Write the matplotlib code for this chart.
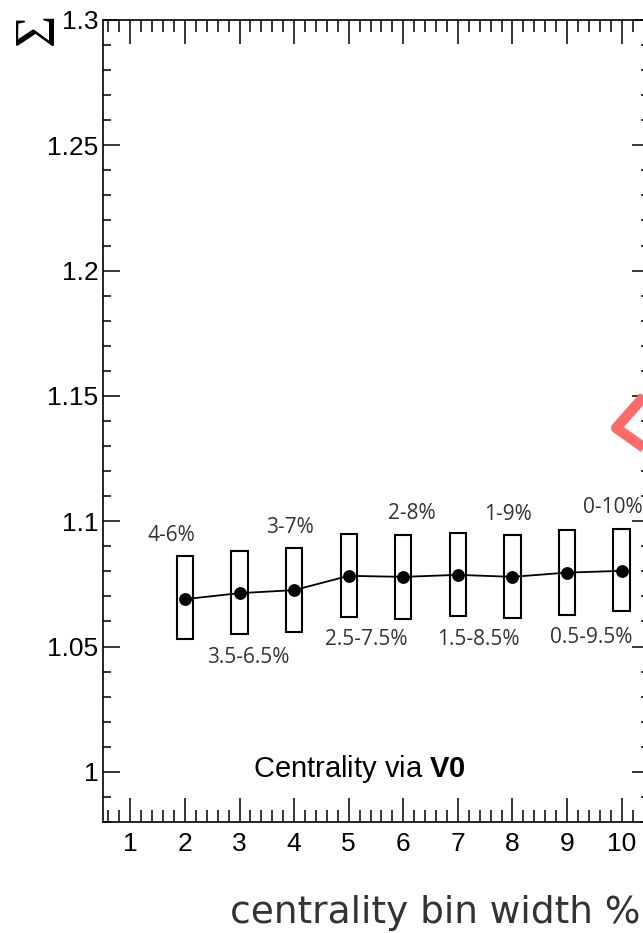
import numpy as np
import matplotlib
matplotlib.use('Agg')
import matplotlib.pyplot as plt
from matplotlib.patches import Rectangle
from matplotlib.ticker import MultipleLocator, FuncFormatter

# centrality bin width (%) and Omega values
bin_width = [2, 3, 4, 5, 6, 7, 8, 9, 10]
omega = [1.0689, 1.0713, 1.0725, 1.0782, 1.0778, 1.0786, 1.0778, 1.0795, 1.0802]
box_top = [1.0860, 1.0880, 1.0893, 1.0951, 1.0947, 1.0952, 1.0944, 1.0964, 1.0970]
box_bottom = [1.0530, 1.0549, 1.0558, 1.0618, 1.0611, 1.0620, 1.0612, 1.0627, 1.0640]
bin_labels = ['4-6%', '3.5-6.5%', '3-7%', '2.5-7.5%', '2-8%', '1.5-8.5%', '1-9%', '0.5-9.5%', '0-10%']

# cropped red marker at the right edge
arrow_x = [10.52, 9.9, 10.52]
arrow_y = [1.1525, 1.1372, 1.1276]

# label nudges (layout only)
label_dx = [-0.25, 0.16, -0.07, 0.32, 0.15, 0.37, -0.08, 0.44, -0.16]

plt.rcParams['mathtext.fontset'] = 'custom'
plt.rcParams['mathtext.rm'] = 'Liberation Sans'
plt.rcParams['mathtext.bf'] = 'Liberation Sans:bold'

fig = plt.figure(figsize=(6.43, 9.33), dpi=100)
ax = fig.add_axes([0.1602, 0.1190, 0.8491, 0.8596])

box_w = 0.3
for x, top, bot in zip(bin_width, box_top, box_bottom):
    ax.add_patch(Rectangle((x - box_w / 2, bot), box_w, top - bot,
                           fill=False, edgecolor='black', linewidth=1.5, zorder=2))

ax.plot(bin_width, omega, color='black', linewidth=1.3, marker='o',
        markersize=8.2, zorder=3)

# labels: even widths above the box, odd widths below
for i, (x, lab) in enumerate(zip(bin_width, bin_labels)):
    if i % 2 == 0:
        ax.annotate(lab, (x + label_dx[i], box_top[i]), xytext=(0, 15),
                    textcoords='offset points', ha='center', va='center',
                    fontsize=15, family='Open Sans', color='#333333')
    else:
        ax.annotate(lab, (x + label_dx[i], box_bottom[i]), xytext=(0, -16.5),
                    textcoords='offset points', ha='center', va='center',
                    fontsize=15, family='Open Sans', color='#333333')

ax.plot(arrow_x, arrow_y, color='#ff6b6b', linewidth=7.5, clip_on=False,
        solid_joinstyle='round', solid_capstyle='butt', zorder=4)

ax.text(5.19, 1.001, r'Centrality via $\mathbf{V0}$', ha='center', va='center',
        fontsize=21, family='Liberation Sans')

ax.set_xlim(0.5, 10.5)
ax.set_ylim(0.98, 1.3)

ax.xaxis.set_major_locator(MultipleLocator(1))
ax.xaxis.set_minor_locator(MultipleLocator(0.2))
ax.yaxis.set_major_locator(MultipleLocator(0.05))
ax.yaxis.set_minor_locator(MultipleLocator(0.01))
ax.yaxis.set_major_formatter(FuncFormatter(lambda v, p: '%g' % round(v, 3)))
ax.set_xticks([1, 2, 3, 4, 5, 6, 7, 8, 9, 10])

ax.tick_params(axis='x', which='major', direction='in', top=True, length=17,
               width=1.1, pad=7, labelsize=19)
ax.tick_params(axis='x', which='minor', direction='in', top=True, length=8.5, width=1.1)
ax.tick_params(axis='y', which='major', direction='in', right=True, length=12,
               width=1.1, pad=3.5, labelsize=19)
ax.tick_params(axis='y', which='minor', direction='in', right=True, length=5.8, width=1.1)
for lab in ax.get_xticklabels() + ax.get_yticklabels():
    lab.set_family('Liberation Sans')
for sp in ax.spines.values():
    sp.set_linewidth(1.2)

# y title (rotated sigma) at the top-left, x title right-aligned
fig.text(39 / 643, 1 - 29 / 933, '\u03a3', rotation=90, ha='center', va='center',
         fontsize=40, family='Liberation Serif')
fig.text(641 / 643, 1 - 923 / 933, 'centrality bin width %', ha='right', va='baseline',
         fontsize=27, family='DejaVu Sans', color='#333333')

fig.savefig('out.png', dpi=100)
